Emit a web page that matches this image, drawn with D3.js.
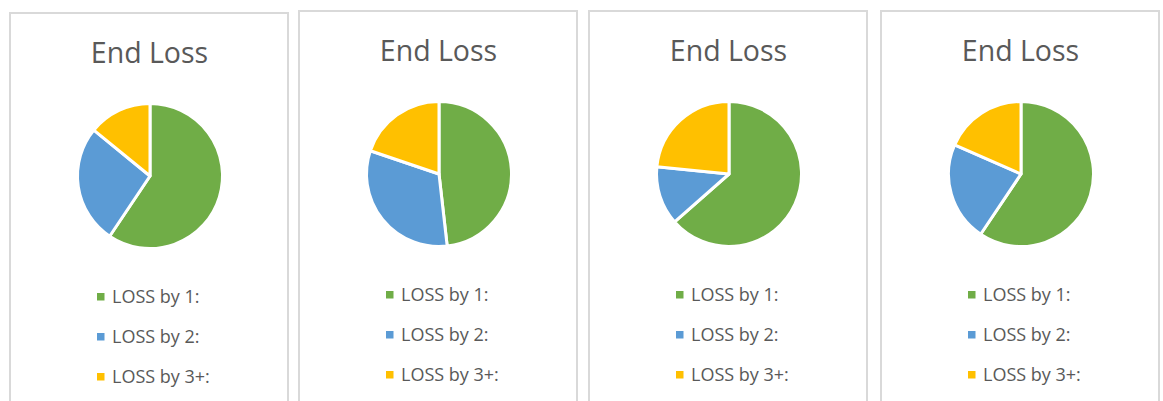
<!DOCTYPE html>
<html>
<head>
<meta charset="utf-8">
<script src="https://cdn.jsdelivr.net/npm/d3@7"></script>
<style>
  body { margin: 0; background: #fff; }
  svg { display: block; }
</style>
</head>
<body>
<div id="chart"></div>
<script>
// Data
const title = "End Loss";
const categories = ["LOSS by 1:", "LOSS by 2:", "LOSS by 3+:"];
const panel1 = [59.4, 26.5, 14.1];
const panel2 = [48.2, 32.0, 19.8];
const panel3 = [63.5, 13.1, 23.4];
const panel4 = [59.4, 22.2, 18.4];
const panelValues = [panel1, panel2, panel3, panel4];

const colors = ["#70AD47", "#5B9BD5", "#FFC000"];

// Layout of the four chart boxes (left, top)
const boxes = [
  {x: 10, y: 13},
  {x: 299, y: 11},
  {x: 589, y: 11},
  {x: 881, y: 11}
];

const dimensions = {
  width: 1163,
  height: 401,
  boxWidth: 278,
  radius: 72.5
};

const wrapper = d3.select("#chart")
  .append("svg")
  .attr("width", dimensions.width)
  .attr("height", dimensions.height);

const colorScale = d3.scaleOrdinal()
  .domain(categories)
  .range(colors);

const pie = d3.pie()
  .sort(null)
  .value(d => d.value);

const arc = d3.arc()
  .innerRadius(0)
  .outerRadius(dimensions.radius);

panelValues.forEach((values, i) => {
  const box = boxes[i];
  const data = categories.map((c, j) => ({category: c, value: values[j]}));

  const g = wrapper.append("g")
    .attr("transform", `translate(${box.x}, ${box.y})`);

  // box border
  g.append("rect")
    .attr("x", 0)
    .attr("y", 0)
    .attr("width", dimensions.boxWidth)
    .attr("height", 420)
    .attr("fill", "#fff")
    .attr("stroke", "#d9d9d9")
    .attr("stroke-width", 2);

  const cx = dimensions.boxWidth / 2;

  // title
  g.append("text")
    .text(title)
    .attr("x", cx + 0.5)
    .attr("y", 50)
    .attr("text-anchor", "middle")
    .attr("font-family", "'Open Sans', sans-serif")
    .attr("font-size", 28.5)
    .attr("fill", "#595959");

  // pie
  const pieG = g.append("g")
    .attr("transform", `translate(${cx + 1}, 163)`);

  pieG.selectAll("path")
    .data(pie(data))
    .join("path")
      .attr("d", arc)
      .attr("fill", d => colorScale(d.data.category))
      .attr("stroke", "#fff")
      .attr("stroke-width", 3)
      .attr("stroke-linejoin", "round");

  // legend
  const legend = g.append("g")
    .attr("transform", `translate(${cx - 52}, 290)`);

  const rows = legend.selectAll("g")
    .data(categories)
    .join("g")
      .attr("transform", (d, j) => `translate(0, ${j * 40})`);

  rows.append("rect")
    .attr("x", 0)
    .attr("y", -10)
    .attr("width", 7.5)
    .attr("height", 7.5)
    .attr("fill", d => colorScale(d));

  rows.append("text")
    .text(d => d)
    .attr("x", 15)
    .attr("y", 0)
    .attr("font-family", "'Open Sans', sans-serif")
    .attr("font-size", 18)
    .attr("fill", "#595959");
});
</script>
</body>
</html>
